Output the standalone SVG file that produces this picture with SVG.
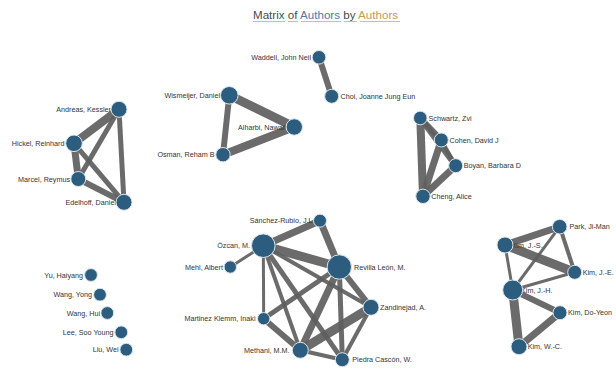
<svg xmlns="http://www.w3.org/2000/svg" width="616" height="376" viewBox="0 0 616 376">
<style>
.bg{fill:#ffffff}
.e{stroke:#5e5e5e;stroke-opacity:0.92;stroke-linecap:butt;fill:none}
.n{fill:#2d5d7e;stroke:#dde5ea;stroke-width:1}
.l{font-family:"Liberation Sans",Arial,sans-serif;font-size:7.2px;fill:#333333}
.r{text-anchor:end}
.t{font-family:"Liberation Sans",Arial,sans-serif;font-size:11.6px}
.u{stroke:#f3a9a9;stroke-width:1}
</style>
<rect class="bg" x="0" y="0" width="616" height="376"/>
<g id="title">
<text class="t" x="253" y="18.5"><tspan fill="#4a4a4a">Matrix of </tspan><tspan fill="#4f7aa6">Authors</tspan><tspan fill="#4a4a4a"> by </tspan><tspan fill="#c29a5c">Authors</tspan></text>
<line class="u" x1="253" y1="21.5" x2="285" y2="21.5"/>
<line class="u" x1="288" y1="21.5" x2="298" y2="21.5"/>
<line class="u" x1="301" y1="21.5" x2="341" y2="21.5"/>
<line class="u" x1="344" y1="21.5" x2="357" y2="21.5"/>
<line class="u" x1="360" y1="21.5" x2="400" y2="21.5"/>
</g>
<g id="connectors">
<!-- cluster 1 -->
<line class="e" x1="119" y1="109.3" x2="74" y2="143.3" stroke-width="8"/>
<line class="e" x1="119" y1="109.3" x2="78.3" y2="179" stroke-width="5"/>
<line class="e" x1="119" y1="109.3" x2="124" y2="202.3" stroke-width="5"/>
<line class="e" x1="74" y1="143.3" x2="78.3" y2="179" stroke-width="7"/>
<line class="e" x1="74" y1="143.3" x2="124" y2="202.3" stroke-width="5"/>
<line class="e" x1="78.3" y1="179" x2="124" y2="202.3" stroke-width="6"/>
<!-- cluster 2 -->
<line class="e" x1="229.3" y1="95.3" x2="294.3" y2="127" stroke-width="9"/>
<line class="e" x1="229.3" y1="95.3" x2="223" y2="154.7" stroke-width="6"/>
<line class="e" x1="223" y1="154.7" x2="294.3" y2="127" stroke-width="8"/>
<!-- cluster 3 -->
<line class="e" x1="319" y1="57.3" x2="331.7" y2="96.3" stroke-width="6"/>
<!-- cluster 4 -->
<line class="e" x1="420.3" y1="118" x2="423" y2="196.3" stroke-width="8"/>
<line class="e" x1="420.3" y1="118" x2="441.3" y2="140" stroke-width="6"/>
<line class="e" x1="420.3" y1="118" x2="455.7" y2="165.7" stroke-width="6"/>
<line class="e" x1="441.3" y1="140" x2="423" y2="196.3" stroke-width="7"/>
<line class="e" x1="455.7" y1="165.7" x2="423" y2="196.3" stroke-width="7"/>
<line class="e" x1="441.3" y1="140" x2="455.7" y2="165.7" stroke-width="4"/>
<!-- cluster 6 -->
<line class="e" x1="320" y1="220.7" x2="263.3" y2="245.7" stroke-width="7"/>
<line class="e" x1="320" y1="220.7" x2="339.3" y2="267" stroke-width="7"/>
<line class="e" x1="263.3" y1="245.7" x2="230.3" y2="267" stroke-width="3"/>
<line class="e" x1="263.3" y1="245.7" x2="339.3" y2="267" stroke-width="9"/>
<line class="e" x1="263.3" y1="245.7" x2="263.7" y2="318.7" stroke-width="3"/>
<line class="e" x1="263.3" y1="245.7" x2="300.3" y2="350.3" stroke-width="4"/>
<line class="e" x1="263.3" y1="245.7" x2="342.3" y2="359.7" stroke-width="5"/>
<line class="e" x1="263.3" y1="245.7" x2="371" y2="307.3" stroke-width="4"/>
<line class="e" x1="339.3" y1="267" x2="263.7" y2="318.7" stroke-width="5"/>
<line class="e" x1="339.3" y1="267" x2="300.3" y2="350.3" stroke-width="7"/>
<line class="e" x1="339.3" y1="267" x2="342.3" y2="359.7" stroke-width="5"/>
<line class="e" x1="339.3" y1="267" x2="371" y2="307.3" stroke-width="6"/>
<line class="e" x1="371" y1="307.3" x2="300.3" y2="350.3" stroke-width="9"/>
<line class="e" x1="371" y1="307.3" x2="342.3" y2="359.7" stroke-width="4"/>
<line class="e" x1="263.7" y1="318.7" x2="300.3" y2="350.3" stroke-width="6"/>
<line class="e" x1="300.3" y1="350.3" x2="342.3" y2="359.7" stroke-width="4"/>
<!-- cluster 7 -->
<line class="e" x1="505" y1="245" x2="559.7" y2="226.7" stroke-width="7"/>
<line class="e" x1="505" y1="245" x2="574.7" y2="272.3" stroke-width="9"/>
<line class="e" x1="505" y1="245" x2="512.7" y2="290" stroke-width="3"/>
<line class="e" x1="559.7" y1="226.7" x2="574.7" y2="272.3" stroke-width="4"/>
<line class="e" x1="559.7" y1="226.7" x2="512.7" y2="290" stroke-width="3"/>
<line class="e" x1="574.7" y1="272.3" x2="512.7" y2="290" stroke-width="3"/>
<line class="e" x1="512.7" y1="290" x2="560" y2="312.7" stroke-width="6"/>
<line class="e" x1="512.7" y1="290" x2="519" y2="346.7" stroke-width="9"/>
<line class="e" x1="560" y1="312.7" x2="519" y2="346.7" stroke-width="7"/>
</g>
<!-- cluster 1 nodes -->
<g id="andreas-kessler"><text class="l r" x="111" y="112">Andreas, Kessler</text><circle class="n" cx="119" cy="109.3" r="8"/></g>
<g id="hickel-reinhard"><text class="l r" x="64.5" y="146">Hickel, Reinhard</text><circle class="n" cx="74" cy="143.3" r="8.3"/></g>
<g id="marcel-reymus"><text class="l r" x="70" y="181.7">Marcel, Reymus</text><circle class="n" cx="78.3" cy="179" r="7.5"/></g>
<g id="edelhoff-daniel"><text class="l r" x="116" y="205">Edelhoff, Daniel</text><circle class="n" cx="124" cy="202.3" r="8"/></g>
<!-- cluster 2 nodes -->
<g id="wismeijer-daniel"><text class="l r" x="220" y="98">Wismeijer, Daniel</text><circle class="n" cx="229.3" cy="95.3" r="8.8"/></g>
<g id="alharbi-nawaf"><text class="l" x="238" y="129.7">Alharbi, Nawaf</text><circle class="n" cx="294.3" cy="127" r="8.2"/></g>
<g id="osman-reham"><text class="l r" x="214.5" y="157.4">Osman, Reham B</text><circle class="n" cx="223" cy="154.7" r="7.2"/></g>
<!-- cluster 3 nodes -->
<g id="waddell-john-neil"><text class="l r" x="311" y="60">Waddell, John Neil</text><circle class="n" cx="319" cy="57.3" r="6.8"/></g>
<g id="choi-joanne"><text class="l" x="340.5" y="99">Choi, Joanne Jung Eun</text><circle class="n" cx="331.7" cy="96.3" r="7"/></g>
<!-- cluster 4 nodes -->
<g id="schwartz-zvi"><text class="l" x="428.5" y="120.7">Schwartz, Zvi</text><circle class="n" cx="420.3" cy="118" r="6.8"/></g>
<g id="cohen-david"><text class="l" x="449.5" y="142.7">Cohen, David J</text><circle class="n" cx="441.3" cy="140" r="7"/></g>
<g id="boyan-barbara"><text class="l" x="463.7" y="168.4">Boyan, Barbara D</text><circle class="n" cx="455.7" cy="165.7" r="7"/></g>
<g id="cheng-alice"><text class="l" x="431.3" y="199">Cheng, Alice</text><circle class="n" cx="423" cy="196.3" r="7.2"/></g>
<!-- isolated nodes -->
<g id="yu-haiyang"><text class="l r" x="83" y="277.7">Yu, Haiyang</text><circle class="n" cx="91" cy="275" r="6.4"/></g>
<g id="wang-yong"><text class="l r" x="92" y="297.4">Wang, Yong</text><circle class="n" cx="100" cy="294.7" r="6.4"/></g>
<g id="wang-hui"><text class="l r" x="100" y="315.7">Wang, Hui</text><circle class="n" cx="107.3" cy="313" r="6.4"/></g>
<g id="lee-soo-young"><text class="l r" x="113.5" y="335">Lee, Soo Young</text><circle class="n" cx="121.3" cy="332.3" r="6.4"/></g>
<g id="liu-wei"><text class="l r" x="118.5" y="352.4">Liu, Wei</text><circle class="n" cx="126.3" cy="349.7" r="6.4"/></g>
<!-- cluster 6 nodes -->
<g id="sanchez-rubio"><text class="l r" x="314.5" y="223.4">Sánchez-Rubio, J.L.</text><circle class="n" cx="320" cy="220.7" r="6.5"/></g>
<g id="ozcan-m"><text class="l r" x="250" y="248.4">Özcan, M.</text><circle class="n" cx="263.3" cy="245.7" r="11.8"/></g>
<g id="mehl-albert"><text class="l r" x="223" y="269.7">Mehl, Albert</text><circle class="n" cx="230.3" cy="267" r="6.2"/></g>
<g id="revilla-leon"><text class="l" x="354" y="269.7">Revilla León, M.</text><circle class="n" cx="339.3" cy="267" r="12.2"/></g>
<g id="zandinejad-a"><text class="l" x="380" y="310">Zandinejad, A.</text><circle class="n" cx="371" cy="307.3" r="8"/></g>
<g id="martinez-klemm"><text class="l r" x="255.5" y="321.4">Martinez Klemm, Inaki</text><circle class="n" cx="263.7" cy="318.7" r="6.2"/></g>
<g id="methani-mm"><text class="l r" x="289.5" y="353">Methani, M.M.</text><circle class="n" cx="300.3" cy="350.3" r="8"/></g>
<g id="piedra-cascon"><text class="l" x="352.3" y="362.4">Piedra Cascón, W.</text><circle class="n" cx="342.3" cy="359.7" r="7"/></g>
<!-- cluster 7 nodes -->
<g id="park-ji-man"><text class="l" x="569.5" y="229.4">Park, Ji-Man</text><circle class="n" cx="559.7" cy="226.7" r="7.3"/></g>
<g id="kim-j-s"><text class="l" x="511.5" y="247.7">Kim, J.-S.</text><circle class="n" cx="505" cy="245" r="8"/></g>
<g id="kim-j-e"><text class="l" x="582.7" y="275">Kim, J.-E.</text><circle class="n" cx="574.7" cy="272.3" r="7"/></g>
<g id="kim-j-h"><text class="l" x="521" y="292.7">Kim, J.-H.</text><circle class="n" cx="512.7" cy="290" r="10"/></g>
<g id="kim-do-yeon"><text class="l" x="568" y="315.4">Kim, Do-Yeon</text><circle class="n" cx="560" cy="312.7" r="7"/></g>
<g id="kim-w-c"><text class="l" x="527.7" y="349.4">Kim, W.-C.</text><circle class="n" cx="519" cy="346.7" r="8"/></g>
</svg>
